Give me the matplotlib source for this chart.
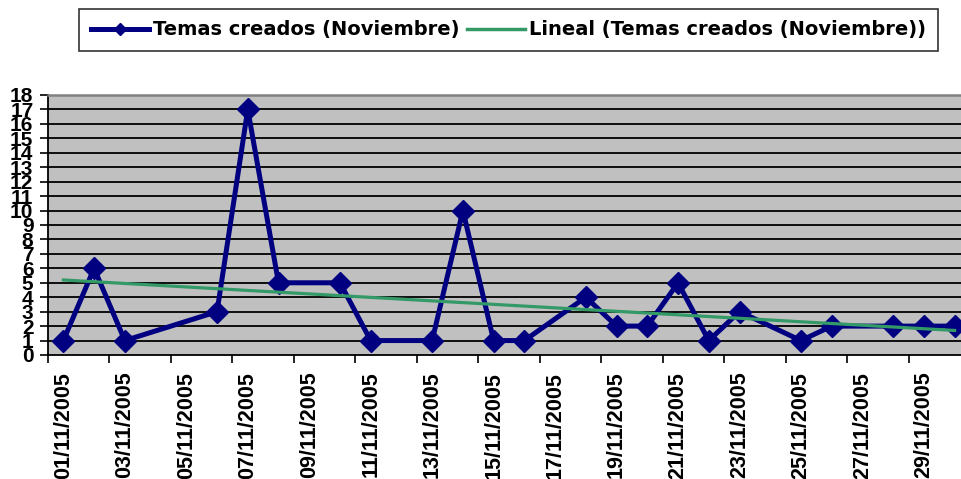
import matplotlib
matplotlib.use("Agg")
import matplotlib.pyplot as plt
import matplotlib.dates as mdates
from matplotlib.lines import Line2D
import numpy as np
import pandas as pd

dates = ["01/11/2005", "02/11/2005", "03/11/2005", "06/11/2005", "07/11/2005",
         "08/11/2005", "10/11/2005", "11/11/2005", "13/11/2005", "14/11/2005",
         "15/11/2005", "16/11/2005", "18/11/2005", "19/11/2005", "20/11/2005",
         "21/11/2005", "22/11/2005", "23/11/2005", "25/11/2005", "26/11/2005",
         "28/11/2005", "29/11/2005", "30/11/2005"]
temas = [1, 6, 1, 3, 17, 5, 5, 1, 1, 10, 1, 1, 4, 2, 2, 5, 1, 3, 1, 2, 2, 2, 2]
yticks = list(range(0, 19))
series_label = "Temas creados (Noviembre)"
trend_label = "Lineal (Temas creados (Noviembre))"

plt.rcParams['font.family'] = ['Liberation Sans', 'DejaVu Sans']
plt.rcParams['font.weight'] = 'bold'

x = pd.to_datetime(dates, format="%d/%m/%Y")
xn = mdates.date2num(x)

fig = plt.figure(figsize=(9.62, 4.79), dpi=100)
W, H = 962, 479
left, right, top, bottom = 48, 970, 95, 355
ax = fig.add_axes([left / W, 1 - bottom / H, (right - left) / W, (bottom - top) / H])
ax.set_facecolor("#C0C0C0")

# trend line (linear fit on the date values)
coef = np.polyfit(xn, temas, 1)
tx = np.array([xn[0], xn[-1]])
ax.plot(tx, np.polyval(coef, tx), color="#339966", lw=2.3, zorder=4)

ax.plot(xn, temas, color="#000080", lw=3.6, marker="D", markersize=11.5,
        markeredgecolor="#000080", zorder=3)

start = mdates.date2num(pd.Timestamp("2005-11-01"))
ax.set_xlim(start - 0.5, start + 29.5)
ax.set_ylim(0, 18)

ax.set_yticks(yticks)
ax.set_yticklabels([str(v) for v in yticks], fontsize=15, fontweight="bold")
ax.tick_params(axis="y", direction="out", length=5.5, width=1.2, pad=5)

major = [start + d for d in range(0, 29, 2)]
minor = [start + d - 0.5 for d in range(0, 29, 2)]
ax.set_xticks(major)
ax.set_xticklabels([mdates.num2date(m).strftime("%d/%m/%Y") for m in major],
                   rotation=90, fontsize=15.5, fontweight="bold", va="top")
ax.set_xticks(minor, minor=True)
ax.tick_params(axis="x", which="major", length=0, pad=12)
ax.tick_params(axis="x", which="minor", direction="out", length=5.5, width=1.2)

for v in yticks[1:-1]:
    ax.axhline(v, color="black", lw=1.3, zorder=1)

for s in ["left", "bottom"]:
    ax.spines[s].set_color("black")
    ax.spines[s].set_linewidth(1.3)
ax.spines["top"].set_color("#808080")
ax.spines["top"].set_linewidth(1.8)
ax.spines["right"].set_visible(False)

handles = [Line2D([], [], color="#000080", lw=3.6, marker="D", markersize=6),
           Line2D([], [], color="#339966", lw=2.5)]
leg = fig.legend(handles, [series_label, trend_label], loc="center",
                 bbox_to_anchor=((75 + 942) / 2 / W, 1 - 30 / H), ncol=2,
                 frameon=True, fancybox=False, edgecolor="black",
                 prop={"family": "DejaVu Sans", "size": 14, "weight": "bold"},
                 handlelength=3.0, handletextpad=0.2, columnspacing=0.4,
                 borderpad=0.6, borderaxespad=0)
leg.get_frame().set_linewidth(1.2)

fig.savefig("out.png", dpi=100)
